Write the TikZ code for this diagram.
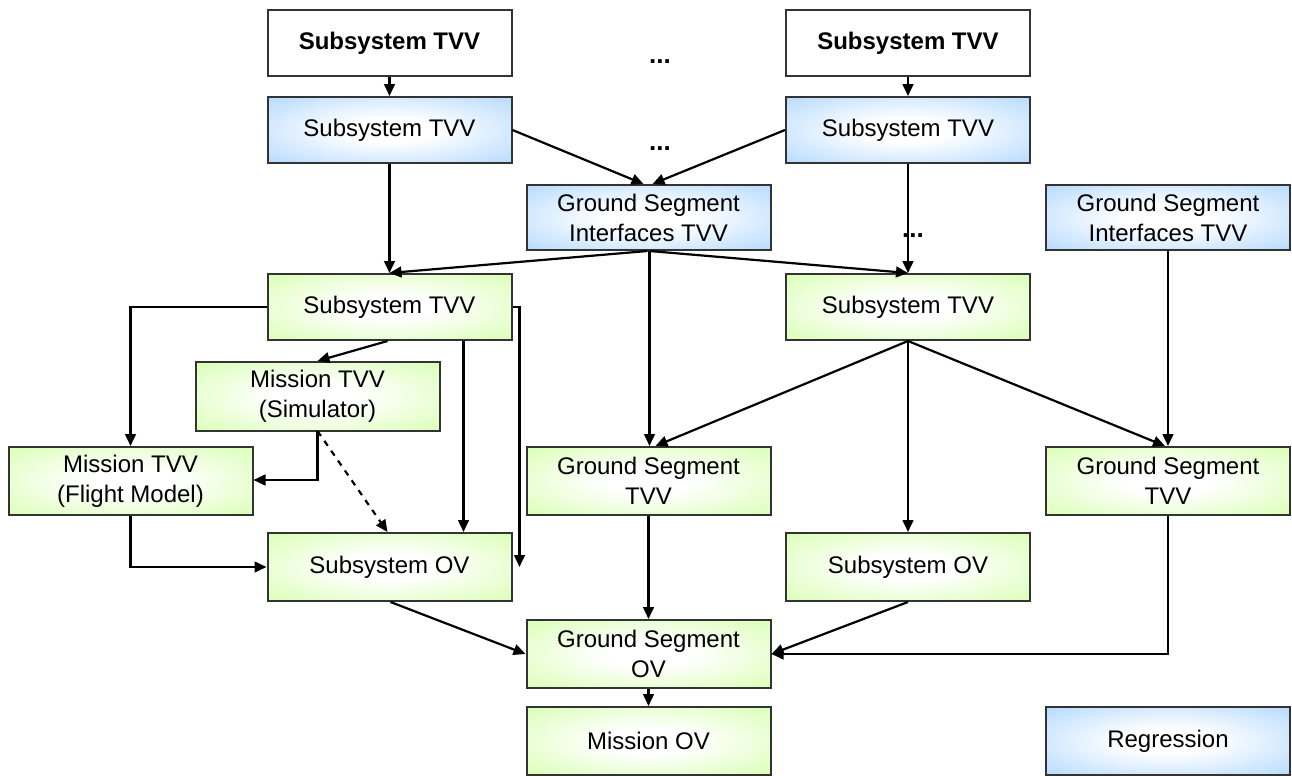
\documentclass[tikz,border=0pt]{standalone}
\usepackage{fontspec}
\setmainfont{Liberation Sans}
\usetikzlibrary{arrows.meta,calc}
\definecolor{gfill}{HTML}{CCFF99}
\definecolor{bfill}{HTML}{99CCFF}
\definecolor{edgec}{HTML}{333333}
\pgfdeclareradialshading{gshade}{\pgfpoint{0bp}{0bp}}{color(0bp)=(white); color(9bp)=(white); color(46bp)=(gfill); color(80bp)=(gfill)}
\pgfdeclareradialshading{bshade}{\pgfpoint{0bp}{0bp}}{color(0bp)=(white); color(9bp)=(white); color(46bp)=(bfill); color(80bp)=(bfill)}
\tikzset{
  box/.style={draw=edgec, line width=1pt, align=center, inner sep=0pt,
    minimum width=122pt, minimum height=34pt, font=\fontsize{12}{15}\selectfont},
  gbox/.style={box, shading=gshade},
  bbox/.style={box, shading=bshade},
  wbox/.style={box, fill=white, font=\fontsize{12}{15}\selectfont\bfseries},
  arr/.style={-{Triangle[length=6pt,width=5.4pt]}, line width=1.1pt, black},
  dots/.style={font=\fontsize{13}{15}\selectfont\bfseries, inner sep=0pt}
}
\begin{document}
\begin{tikzpicture}[x=0.5pt,y=-0.5pt]
\useasboundingbox (0,0) rectangle (1292,776);
% top row
\node[wbox, minimum height=33pt] (tl) at (389.5,43) {Subsystem TVV};
\node[wbox, minimum height=33pt] (tr) at (908,43) {Subsystem TVV};
\node[bbox, minimum height=33pt] (bl) at (389.5,130) {Subsystem TVV};
\node[bbox, minimum height=33pt] (br) at (908,130) {Subsystem TVV};
\node[bbox, minimum height=32.5pt] (gsi) at (648.5,217.5) {Ground Segment\\Interfaces TVV};
\node[bbox, minimum height=32.5pt] (gsir) at (1168,217.5) {Ground Segment\\Interfaces TVV};
\node[gbox, minimum height=33pt] (gl) at (389.5,307) {Subsystem TVV};
\node[gbox, minimum height=33pt] (gr) at (908,307) {Subsystem TVV};
\node[gbox, minimum height=34.5pt] (sim) at (317.5,396.5) {Mission TVV\\(Simulator)};
\node[gbox] (fm) at (130.5,481) {Mission TVV\\(Flight Model)};
\node[gbox] (gst) at (648.5,481) {Ground Segment\\TVV};
\node[gbox] (gstr) at (1168,481) {Ground Segment\\TVV};
\node[gbox] (sov) at (389.5,567) {Subsystem OV};
\node[gbox] (sovr) at (908,567) {Subsystem OV};
\node[gbox] (gsov) at (648.5,654) {Ground Segment\\OV};
\node[gbox] (mov) at (648.5,741) {Mission OV};
\node[bbox] (reg) at (1168,741) {Regression};
% dots
\node[dots] (d1) at (660,62) {...};
\node[dots] (d2) at (660,149) {...};
\node[dots] (d3) at (913,236) {...};
% connectors
\draw[arr] (tl) -- (bl);
\draw[arr] (tr) -- (br);
\draw[arr] (bl.east) -- ($(gsi.north)+(-5,0)$);
\draw[arr] (br.west) -- ($(gsi.north)+(4,0)$);
\draw[arr] (bl) -- (gl);
\draw[arr] (br) -- (gr);
\draw[arr] ($(gsi.south)+(-1,0)$) -- (gl.north);
\draw[arr] ($(gsi.south)+(1,0)$) -- (gr.north);
\draw[arr] ($(gsi.south)+(1,0)$) -- ($(gst.north)+(1,0)$);
\draw[arr] (gl.west) -| (fm.north);
\draw[arr] ($(gl.south)+(-2,0)$) -- (sim.north);
\draw[arr] ($(gl.south)+(74,0)$) -- ($(sov.north)+(74,0)$);
\draw[arr] (gl.east) -- ++(7,0) coordinate (c1) -- (c1 |- sov.east);
\draw[arr] ($(sim.south)+(0,-1)$) |- ($(fm.east)+(0,-1)$);
\draw[arr, dashed] ($(sim.south)+(0,-1)$) -- ($(sov.north)+(-2,0)$);
\draw[arr] (fm.south) |- (sov.west);
\draw[arr] ($(sov.south)+(1,0)$) -- (gsov.west);
\draw[arr] (gst) -- (gsov);
\draw[arr] (gr.south) -- ($(gst.north)+(7,0)$);
\draw[arr] (gr.south) -- (sovr.north);
\draw[arr] (gr.south) -- ($(gstr.north)+(-3,0)$);
\draw[arr] (gsir) -- (gstr);
\draw[arr] (sovr.south) -- (gsov.east);
\draw[arr] (gstr.south) |- (gsov.east);
\draw[arr] (gsov) -- (mov);
\end{tikzpicture}
\end{document}
